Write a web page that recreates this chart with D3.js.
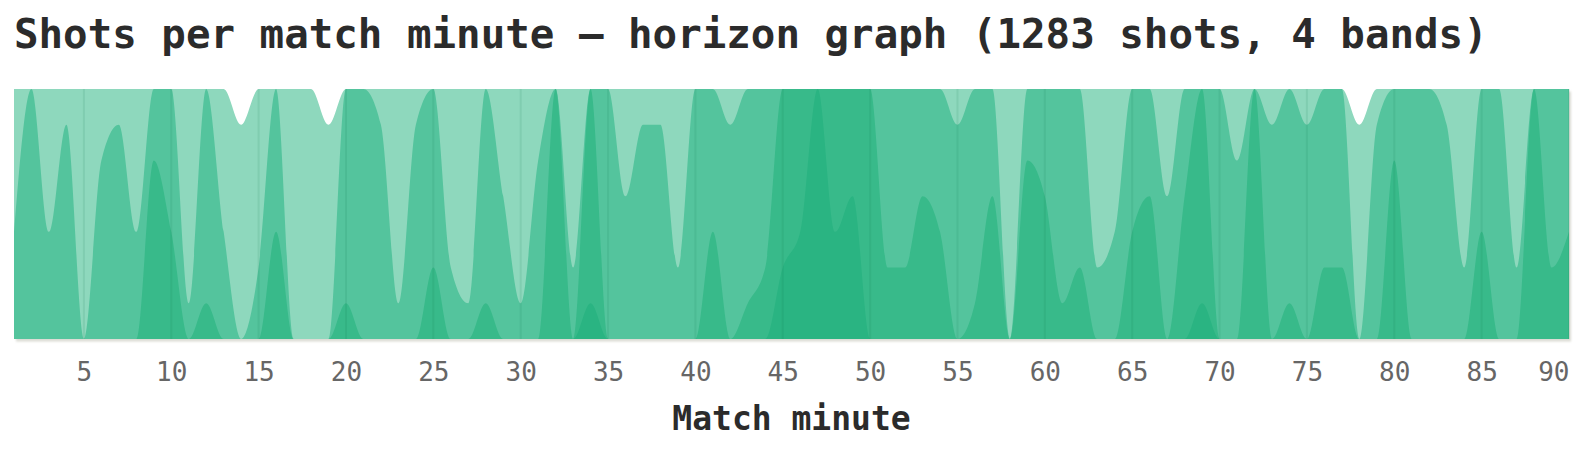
<!DOCTYPE html>
<html><head><meta charset="utf-8">
<script src="https://cdn.jsdelivr.net/npm/d3@7"></script>
<style>
html,body{margin:0;padding:0;background:#fff;}
svg{display:block;}
</style></head>
<body>
<svg id="chart" width="1586" height="449"></svg>
<script>
const minutes = [1,2,3,4,5,6,7,8,9,10,11,12,13,14,15,16,17,18,19,20,
  21,22,23,24,25,26,27,28,29,30,31,32,33,34,35,36,37,38,39,40,
  41,42,43,44,45,46,47,48,49,50,51,52,53,54,55,56,57,58,59,60,
  61,62,63,64,65,66,67,68,69,70,71,72,73,74,75,76,77,78,79,80,
  81,82,83,84,85,86,87,88,89,90];
const shots = [10,14,10,13,7,12,13,10,19,17,
  8,15,10,6,9,17,7,7,6,15,
  14,13,8,13,16,9,8,15,11,8,
  12,21,9,22,14,11,13,13,9,14,
  17,13,15,16,23,24,28,24,25,21,
  16,16,18,17,13,15,18,7,19,18,
  15,16,9,10,17,18,11,18,22,14,
  12,21,13,15,13,16,16,6,13,19,
  14,14,13,9,17,14,9,21,16,17];
const tickMinutes = [5,10,15,20,25,30,35,40,45,50,55,60,65,70,75,80,85,90];
const bandCount = 4;
const bandColors = ["#8ed8bd","#54c49d","#38ba8a","#2ab482"];
const titleText = "Shots per match minute \u2014 horizon graph (1283 shots, 4 bands)";
const xAxisLabel = "Match minute";

const plotLeft = 14, plotTop = 89, plotW = 1555, plotH = 250;
const mono = "'DejaVu Sans Mono', 'Liberation Mono', monospace";
const svg = d3.select("#chart");

const x = d3.scaleLinear().domain([d3.min(minutes), d3.max(minutes)]).range([0, plotW]);
const step = d3.max(shots) / bandCount;
const y = d3.scaleLinear().domain([0, step]).range([plotH, 0]);

const defs = svg.append("defs");
defs.append("clipPath").attr("id", "clip").append("rect")
  .attr("width", plotW).attr("height", plotH);
const f = defs.append("filter").attr("id", "blur").attr("x", "-5%").attr("y", "-5%").attr("width", "110%").attr("height", "110%");
f.append("feGaussianBlur").attr("stdDeviation", 0.8);

svg.append("text").attr("x", 14).attr("y", 48)
  .attr("font-family", mono).attr("font-weight", "bold").attr("font-size", 40.8)
  .attr("fill", "#2b2b2b").text(titleText);

const g = svg.append("g").attr("transform", `translate(${plotLeft},${plotTop})`);
g.append("rect").attr("x", 2).attr("y", 2.5).attr("width", plotW).attr("height", plotH)
  .attr("fill", "#dcdcd4").attr("filter", "url(#blur)");
g.append("rect").attr("width", plotW).attr("height", plotH).attr("fill", "#fff");

// each band shows the part of the value that falls in its slice, clamped to [0, step]
const bandData = d3.range(bandCount).map(b =>
  minutes.map((m, i) => ({m, v: Math.max(0, Math.min(step, shots[i] - b * step))})));

const area = d3.area().curve(d3.curveMonotoneX)
  .x(d => x(d.m)).y0(plotH).y1(d => y(d.v));

const bands = g.append("g").attr("clip-path", "url(#clip)");
bands.selectAll("path").data(bandData).join("path")
  .attr("fill", (d, i) => bandColors[i])
  .attr("d", area);

g.append("g").selectAll("line").data(tickMinutes).join("line")
  .attr("x1", d => x(d)).attr("x2", d => x(d)).attr("y1", 0).attr("y2", plotH)
  .attr("stroke", "#0a6b46").attr("stroke-opacity", 0.1).attr("stroke-width", 2);

const axis = d3.axisBottom(x).tickValues(tickMinutes).tickSize(0).tickPadding(23.5);
const ax = g.append("g").attr("transform", `translate(0,${plotH})`).call(axis);
ax.select(".domain").remove();
ax.selectAll("text").attr("font-family", mono).attr("font-size", 26).attr("fill", "#666");
ax.selectAll(".tick").filter(d => d === d3.max(tickMinutes)).select("text").attr("text-anchor", "end");

svg.append("text").attr("x", plotLeft + plotW / 2).attr("y", 430).attr("text-anchor", "middle")
  .attr("font-family", mono).attr("font-weight", "bold").attr("font-size", 33)
  .attr("fill", "#2b2b2b").text(xAxisLabel);
</script>
</body></html>
